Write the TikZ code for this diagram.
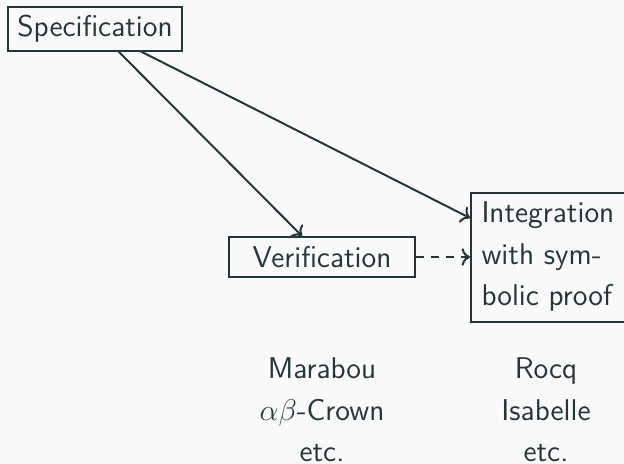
\documentclass[tikz,border=0pt]{standalone}
\usetikzlibrary{arrows.meta}
\definecolor{fg}{HTML}{23373B}
\definecolor{bg}{HTML}{FAFAFA}
\begin{document}
\begin{tikzpicture}[x=0.4pt,y=-0.4pt,
  every node/.style={text=fg,font=\sffamily\fontsize{12}{16.6}\selectfont},
  box/.style={draw=fg,line width=0.8pt,inner sep=0pt},
  link/.style={draw=fg,line width=0.8pt,->},
  tool/.style={align=center}]
  \fill[bg] (0,0) rectangle (624,464);
  \useasboundingbox (0,0) rectangle (624,464);
  \begin{scope}
  \clip (0,0) rectangle (624,464);
  \node[box,minimum width=174*0.4pt,minimum height=44*0.4pt] (spec) at (95,29) {Specification};
  \node[box,minimum width=186*0.4pt,minimum height=40*0.4pt] (ver) at (322,257) {Verification};
  \node[box,minimum width=180*0.4pt,minimum height=129*0.4pt] (integ) at (561,257.5) {};
  \node[align=left,anchor=west,inner sep=0pt] (itext) at (481,257) {Integration\\with sym-\\bolic proof};
  \end{scope}
  \coordinate (s1) at (118,51);
  \coordinate (s2) at (140,51);
  \draw[link] (s1) -- (ver.north west -| 302,0);
  \draw[link] (s2) -- (integ.west |- 0,218);
  \draw[link,dashed] (ver.east) -- (integ.west |- ver.east);
  \node[tool] (vtools) at (322,410) {Marabou\\$\alpha\beta$-Crown\\etc.};
  \node[tool] (ptools) at (546,410) {Rocq\\Isabelle\\etc.};
\end{tikzpicture}
\end{document}
